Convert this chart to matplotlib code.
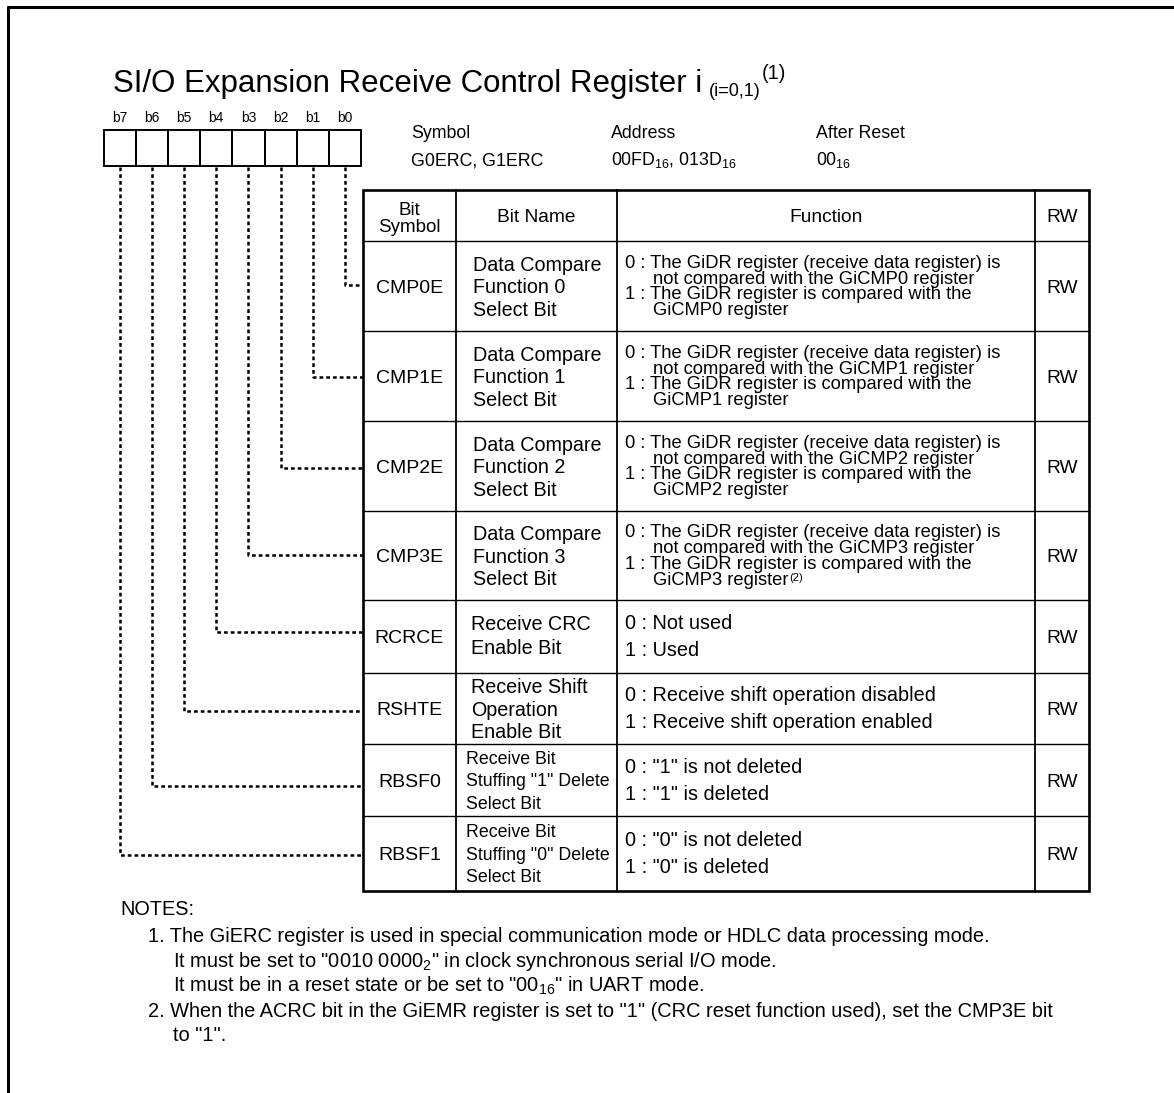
"""
SI/O expansion receive control register diagram
Drawn on one big axes that maps 1 unit = 1 pixel.
"""

import matplotlib
matplotlib.use('Agg')
import matplotlib.pyplot as plt
from matplotlib.patches import Rectangle

plt.rcParams['font.family'] = ['Liberation Sans', 'DejaVu Sans']
plt.rcParams['mathtext.default'] = 'regular'

# ---- content ----
title_main = "SI/O Expansion Receive Control Register i"
title_sub = "(i=0,1)"
title_sup = "(1)"

bit_labels = ["b7", "b6", "b5", "b4", "b3", "b2", "b1", "b0"]

info_heads = ["Symbol", "Address", "After Reset"]
info_values = ["G0ERC, G1ERC", "00FD$_{16}$, 013D$_{16}$", "00$_{16}$"]

col_heads = ["Bit Name", "Function", "RW"]

bit_symbols = ["CMP0E", "CMP1E", "CMP2E", "CMP3E",
               "RCRCE", "RSHTE", "RBSF0", "RBSF1"]

bit_names = [
    ["Data Compare", "Function 0", "Select Bit"],
    ["Data Compare", "Function 1", "Select Bit"],
    ["Data Compare", "Function 2", "Select Bit"],
    ["Data Compare", "Function 3", "Select Bit"],
    ["Receive CRC", "Enable Bit"],
    ["Receive Shift", "Operation", "Enable Bit"],
    ["Receive Bit", 'Stuffing "1" Delete', "Select Bit"],
    ["Receive Bit", 'Stuffing "0" Delete', "Select Bit"],
]

functions = [
    ["0 : The GiDR register (receive data register) is",
     "not compared with the GiCMP0 register",
     "1 : The GiDR register is compared with the",
     "GiCMP0 register"],
    ["0 : The GiDR register (receive data register) is",
     "not compared with the GiCMP1 register",
     "1 : The GiDR register is compared with the",
     "GiCMP1 register"],
    ["0 : The GiDR register (receive data register) is",
     "not compared with the GiCMP2 register",
     "1 : The GiDR register is compared with the",
     "GiCMP2 register"],
    ["0 : The GiDR register (receive data register) is",
     "not compared with the GiCMP3 register",
     "1 : The GiDR register is compared with the",
     "GiCMP3 register"],
    ["0 : Not used", "1 : Used"],
    ["0 : Receive shift operation disabled", "1 : Receive shift operation enabled"],
    ['0 : "1" is not deleted', '1 : "1" is deleted'],
    ['0 : "0" is not deleted', '1 : "0" is deleted'],
]
# note reference mark after the last function line
function_marks = ["", "", "", "(2)", "", "", "", ""]

access = ["RW", "RW", "RW", "RW", "RW", "RW", "RW", "RW"]

notes_head = "NOTES:"
notes = [
    "1. The GiERC register is used in special communication mode or HDLC data processing mode.",
    'It must be set to "0010 0000$_2$" in clock synchronous serial I/O mode.',
    'It must be in a reset state or be set to "00$_{16}$" in UART mode.',
    '2. When the ACRC bit in the GiEMR register is set to "1" (CRC reset function used), set the CMP3E bit',
    'to "1".',
]

# ---- layout (pixels) ----
W, H = 1174, 1093
fig = plt.figure(figsize=(W / 100, H / 100), dpi=100)
ax = fig.add_axes([0, 0, 1, 1])
ax.set_xlim(0, W)
ax.set_ylim(H, 0)
ax.axis('off')
rend = fig.canvas.get_renderer()


def txt(x, y, s, size, ha='left'):
    # y is the visual middle of capitals
    return ax.text(x, y + 0.358 * size * 100 / 72, s, fontsize=size,
                   ha=ha, va='baseline', color='black')


# page frame (top and left only)
ax.plot([7, W], [7, 7], color='k', lw=2.2, solid_capstyle='butt')
ax.plot([7.5, 7.5], [6, H], color='k', lw=2.2, solid_capstyle='butt')

# title with subscript / superscript
x = 113
base = 92
for s, size, dy in [(title_main, 22.5, 0), (title_sub, 13, 4), (title_sup, 14.5, -13)]:
    t = ax.text(x, base + dy, s, fontsize=size, va='baseline', ha='left')
    x += t.get_window_extent(renderer=rend).width + (7 if s == title_main else 1)

# bit boxes
box_x0, box_y0, cell_w, cell_h = 104, 130, 32.1, 36
for i, lab in enumerate(bit_labels):
    cx = box_x0 + cell_w * i
    ax.add_patch(Rectangle((cx, box_y0), cell_w, cell_h, fill=False, lw=1.4, ec='k'))
    txt(cx + cell_w / 2, 117, lab, 10, ha='center')

# symbol / address / after reset
info_x = [411, 611, 816]
for hx, hd, val in zip(info_x, info_heads, info_values):
    txt(hx, 132, hd, 12.8)
    txt(hx, 159, val, 12.8)

# table
col_x = [363, 456, 617, 1035, 1089]
row_y = [190, 241, 331, 421, 511, 600, 673, 744, 816, 891]
for xx in col_x[1:-1]:
    ax.plot([xx, xx], [row_y[0], row_y[-1]], color='k', lw=1.3)
for yy in row_y[1:-1]:
    ax.plot([col_x[0], col_x[-1]], [yy, yy], color='k', lw=1.0)
ax.add_patch(Rectangle((col_x[0], row_y[0]), col_x[-1] - col_x[0], row_y[-1] - row_y[0],
                       fill=False, lw=1.9, ec='k'))

# header
sym_cx = (col_x[0] + col_x[1]) / 2
txt(sym_cx, 208, "Bit", 13.5, ha='center')
txt(sym_cx, 225, "Symbol", 13.5, ha='center')
hy = (row_y[0] + row_y[1]) / 2
for k, hd in enumerate(col_heads):
    txt((col_x[k + 1] + col_x[k + 2]) / 2, hy, hd, 13.8, ha='center')

# connector y for each row (bit0 first)
link_y = [285, 377, 468, 555, 632, 711, 786, 855]
name_x = [473, 473, 473, 473, 471, 471, 466, 466]

for k in range(len(bit_symbols)):
    cy = (row_y[k + 1] + row_y[k + 2]) / 2
    txt(sym_cx, cy, bit_symbols[k], 14, ha='center')
    txt((col_x[3] + col_x[4]) / 2, cy, access[k], 13.8, ha='center')

    # bit name
    nm = bit_names[k]
    nsize = 12.8 if k >= 6 else 14.2
    if len(nm) == 3:
        offs = [-22.5, 0, 22.5]
    else:
        offs = [-14, 10]
    for j, line in enumerate(nm):
        txt(name_x[k], cy + offs[j], line, nsize)

    # function text
    fl = functions[k]
    if len(fl) == 4:
        fsize, fstep = 13.2, 15.8
    else:
        fsize, fstep = 14.3, 27
    for j, line in enumerate(fl):
        fx = 625 if line[:3] in ("0 :", "1 :") else 653
        ly = cy - 1 + (j - (len(fl) - 1) / 2) * fstep
        t = txt(fx, ly, line, fsize)
        if j == len(fl) - 1 and function_marks[k]:
            wpx = t.get_window_extent(renderer=rend).width
            ax.text(fx + wpx + 1, ly + 3, function_marks[k], fontsize=8,
                    va='baseline', ha='left')

    # dotted connector from bit box
    bx = box_x0 + cell_w * (7 - k + 0.5)
    ax.plot([bx, bx, col_x[0]], [box_y0 + cell_h + 1, link_y[k], link_y[k]],
            color='k', lw=1.8, ls=(0, (1.5, 1.2)), solid_capstyle='butt')

# notes
txt(120, 908, notes_head, 14.3)
note_x = [148, 173, 173, 148, 173]
note_y = [935, 960, 985, 1010, 1034]
for nx, ny, line in zip(note_x, note_y, notes):
    txt(nx, ny, line, 14.4)

fig.savefig('out.png', dpi=100)
